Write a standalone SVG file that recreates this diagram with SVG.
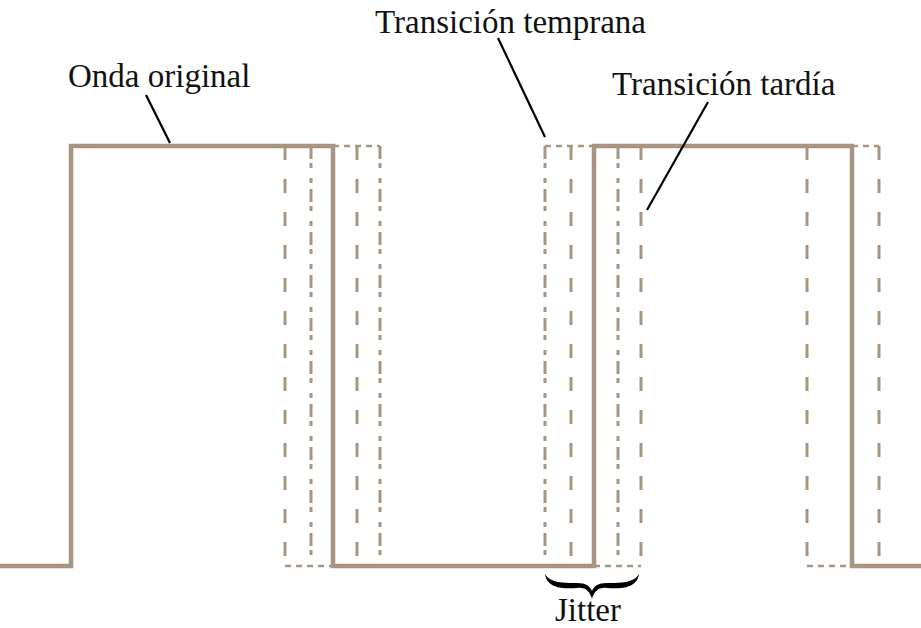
<svg xmlns="http://www.w3.org/2000/svg" width="921" height="628" viewBox="0 0 921 628">
<style>
.wave{fill:none;stroke:#a79582;stroke-width:4.5;stroke-linejoin:miter}
.ld{fill:none;stroke:#a79582;stroke-width:3;stroke-dasharray:14 19}
.dd{fill:none;stroke:#a79582;stroke-width:3;stroke-dasharray:13 4 5 10 5 6}
.hd{fill:none;stroke:#a79582;stroke-width:2.5;stroke-dasharray:6 5}
.lead{fill:none;stroke:#000;stroke-width:2.2}
.lbl{font-family:"Liberation Serif","Times New Roman",serif;font-size:33px;fill:#111}
</style>
<rect width="921" height="628" fill="#fff"/>
<g id="jitter-lines">
<line class="ld" x1="285" y1="146" x2="285" y2="566"/>
<line class="dd" x1="311" y1="146" x2="311" y2="566"/>
<line class="hd" x1="285" y1="566" x2="333" y2="566"/>
<line class="ld" x1="357" y1="146" x2="357" y2="566"/>
<line class="dd" x1="380" y1="146" x2="380" y2="566"/>
<line class="hd" x1="333" y1="146" x2="380" y2="146"/>
<line class="dd" x1="545" y1="146" x2="545" y2="566"/>
<line class="ld" x1="571" y1="146" x2="571" y2="566"/>
<line class="hd" x1="545" y1="146" x2="594" y2="146"/>
<line class="dd" x1="618" y1="146" x2="618" y2="566"/>
<line class="ld" x1="641" y1="146" x2="641" y2="566"/>
<line class="hd" x1="594" y1="566" x2="641" y2="566"/>
<line class="ld" x1="807" y1="146" x2="807" y2="566"/>
<line class="hd" x1="807" y1="566" x2="852" y2="566"/>
<line class="ld" x1="879" y1="146" x2="879" y2="566"/>
<line class="hd" x1="852" y1="146" x2="879" y2="146"/>
</g>
<g id="onda-original">
<path class="wave" d="M0,566 H71 V146 H333 V566 H594 V146 H852 V566 H921"/>
</g>
<g id="connectors">
<line class="lead" x1="146" y1="95" x2="170" y2="143"/>
<line class="lead" x1="498" y1="38" x2="545" y2="137"/>
<line class="lead" x1="708" y1="102" x2="647" y2="210"/>
</g>
<g id="label-onda">
<text class="lbl" x="68" y="87">Onda original</text>
</g>
<g id="label-temprana">
<text class="lbl" x="375" y="33">Transición temprana</text>
</g>
<g id="label-tardia">
<text class="lbl" x="612" y="95">Transición tardía</text>
</g>
<g id="jitter">
<path fill="#000" d="M545,574 C547,589 565,589 577,588 C586,587 590,592 592,599 C594,592 598,587 607,588 C619,589 637,589 639,574 C634,583 620,583 607,583 C598,583 594,586 592,591 C590,586 586,583 577,583 C564,583 550,583 545,574 Z"/>
<text class="lbl" x="555" y="621">Jitter</text>
</g>
</svg>
